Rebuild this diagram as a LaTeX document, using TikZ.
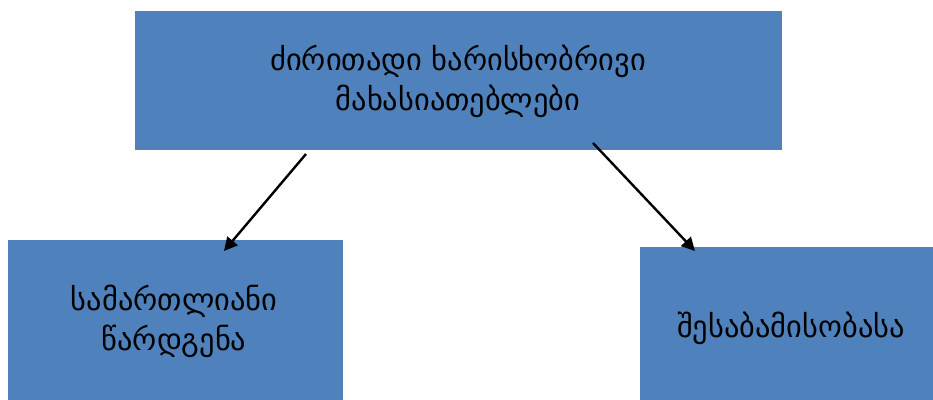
\documentclass[tikz,border=0pt]{standalone}
\usepackage{fontspec}
\newfontfamily\geofont{DejaVu Sans}
\usetikzlibrary{arrows.meta}
\begin{document}
\begin{tikzpicture}[x=0.75pt,y=-0.75pt,
  box/.style={fill=boxblue,draw=none},
  lbl/.style={align=center,font=\geofont\fontsize{22.8}{30}\selectfont,text=black},
  arr/.style={line width=1.8pt,-{Triangle[length=10pt,width=10pt]}}]
\definecolor{boxblue}{HTML}{4F81BD}
\useasboundingbox (0,0) rectangle (933,400);
\fill[boxblue] (135,11) rectangle (782,150);
\fill[boxblue] (8,240) rectangle (343,400);
\fill[boxblue] (640,247) rectangle (933,400);
\node[lbl] (top) at (458,81) {ძირითადი ხარისხობრივი\\მახასიათებლები};
\node[lbl] (left) at (174,321) {სამართლიანი\\წარდგენა};
\node[lbl] (right) at (791,328) {შესაბამისობასა};
\coordinate (a1) at (306,154);
\coordinate (a2) at (224,251);
\coordinate (b1) at (593,143);
\coordinate (b2) at (695,251);
\draw[arr] (a1) -- (a2);
\draw[arr] (b1) -- (b2);
\end{tikzpicture}
\end{document}
